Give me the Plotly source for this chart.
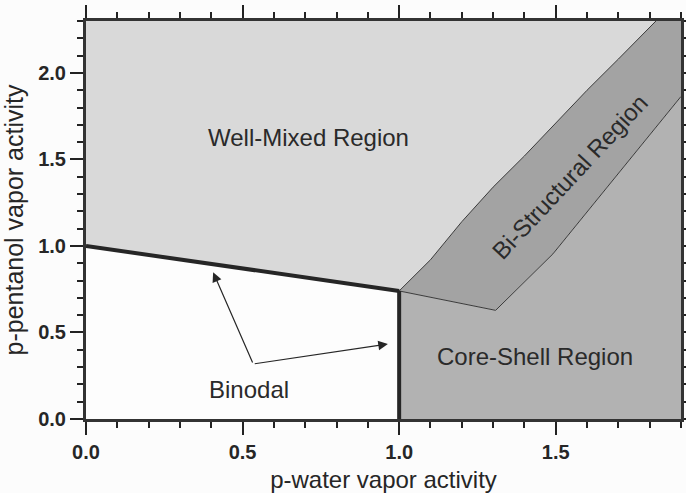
import plotly.graph_objects as go

# ---- data ----
X_MAX = 1.9
Y_MAX = 2.3

binodal_x = [0.0, 0.25, 0.5, 0.75, 1.0]
binodal_y = [1.0, 0.935, 0.87, 0.805, 0.74]

spinodal_x = [1.0, 1.0]
spinodal_y = [0.0, 0.74]

bi_left_x = [1.0, 1.1, 1.2, 1.3, 1.4, 1.5, 1.6, 1.7, 1.82]
bi_left_y = [0.74, 0.92, 1.14, 1.34, 1.52, 1.71, 1.90, 2.08, 2.3]

bi_right_x = [1.308, 1.491, 1.9]
bi_right_y = [0.628, 0.954, 1.864]

labels = ["Well-Mixed Region", "Binodal", "Core-Shell Region", "Bi-Structural Region"]
label_x = [0.709, 0.521, 1.434, 1.545]
label_y = [1.624, 0.168, 0.364, 1.404]
label_angle = [0, 0, 0, -47]

arrow_tail = (0.534, 0.318)
arrow_tips_x = [0.406, 0.964]
arrow_tips_y = [0.848, 0.433]

major_ticks = [0.0, 0.5, 1.0, 1.5, 2.0]

# ---- colours ----
C_WELL = "#d9d9d9"
C_BI = "#a3a3a3"
C_CORE = "#b2b2b2"
C_INK = "#262626"
C_AX = "#333333"
FONT = "Liberation Sans, Arial, sans-serif"

fig = go.Figure()

# Well-mixed region
wm_x = [0.0] + binodal_x + bi_left_x[1:] + [0.0]
wm_y = [Y_MAX] + binodal_y + bi_left_y[1:] + [Y_MAX]
fig.add_trace(go.Scatter(x=wm_x, y=wm_y, fill="toself", fillcolor=C_WELL,
                         mode="lines", line=dict(width=0), hoverinfo="skip"))

# Bi-structural region
bs_x = bi_left_x + [X_MAX] + bi_right_x[::-1] + [bi_left_x[0]]
bs_y = bi_left_y + [Y_MAX] + bi_right_y[::-1] + [bi_left_y[0]]
fig.add_trace(go.Scatter(x=bs_x, y=bs_y, fill="toself", fillcolor=C_BI,
                         mode="lines", line=dict(width=0), hoverinfo="skip"))

# Core-shell region
cs_x = [spinodal_x[0], X_MAX] + bi_right_x[::-1] + [spinodal_x[1], spinodal_x[0]]
cs_y = [0.0, 0.0] + bi_right_y[::-1] + [spinodal_y[1], 0.0]
fig.add_trace(go.Scatter(x=cs_x, y=cs_y, fill="toself", fillcolor=C_CORE,
                         mode="lines", line=dict(width=0), hoverinfo="skip"))

# thin boundaries
fig.add_trace(go.Scatter(x=bi_left_x, y=bi_left_y, mode="lines",
                         line=dict(color="#3a3a3a", width=1), hoverinfo="skip"))
fig.add_trace(go.Scatter(x=[bi_left_x[0]] + bi_right_x, y=[bi_left_y[0]] + bi_right_y,
                         mode="lines", line=dict(color="#3a3a3a", width=1), hoverinfo="skip"))

# binodal (thick)
fig.add_trace(go.Scatter(x=binodal_x, y=binodal_y, mode="lines",
                         line=dict(color=C_INK, width=4), hoverinfo="skip"))
fig.add_trace(go.Scatter(x=spinodal_x, y=spinodal_y, mode="lines",
                         line=dict(color=C_INK, width=4), hoverinfo="skip"))

annotations = []
for t, lx, ly, a in zip(labels, label_x, label_y, label_angle):
    annotations.append(dict(x=lx, y=ly, xref="x", yref="y", text=t, showarrow=False,
                            textangle=a, font=dict(family=FONT, size=24, color="#2a2a2a")))
for tx, ty in zip(arrow_tips_x, arrow_tips_y):
    annotations.append(dict(x=tx, y=ty, ax=arrow_tail[0], ay=arrow_tail[1],
                            xref="x", yref="y", axref="x", ayref="y", text="",
                            showarrow=True, arrowhead=2, arrowsize=1.6, arrowwidth=1.2,
                            arrowcolor=C_INK, standoff=0, startstandoff=0))

axis_major = dict(
    showgrid=False, zeroline=False, showline=True, linewidth=3, linecolor=C_AX,
    mirror="ticks", ticks="outside", ticklen=13, tickwidth=2, tickcolor="#222222",
    tickfont=dict(family=FONT, size=20, color="#262626", weight="bold"),
    tickmode="array", tickvals=major_ticks, ticktext=[f"{v:.1f}" for v in major_ticks],
    automargin=False,
    minor=dict(dtick=0.1, tick0=0, ticks="outside", ticklen=6, tickwidth=2,
               tickcolor="#222222", showgrid=False),
)

fig.update_layout(
    template="simple_white",
    width=686, height=493,
    margin=dict(l=86, r=5, t=21, b=74),
    paper_bgcolor="#fcfcfc", plot_bgcolor="#fdfdfd",
    showlegend=False,
    annotations=annotations,
    xaxis=dict(range=[0, X_MAX], title=dict(text="p-water vapor activity", standoff=14,
               font=dict(family=FONT, size=24, color="#262626")), **axis_major),
    yaxis=dict(range=[0, Y_MAX], title=dict(text="p-pentanol vapor activity", standoff=12,
               font=dict(family=FONT, size=25, color="#262626")), **axis_major),
)

fig.write_html("out.html")
